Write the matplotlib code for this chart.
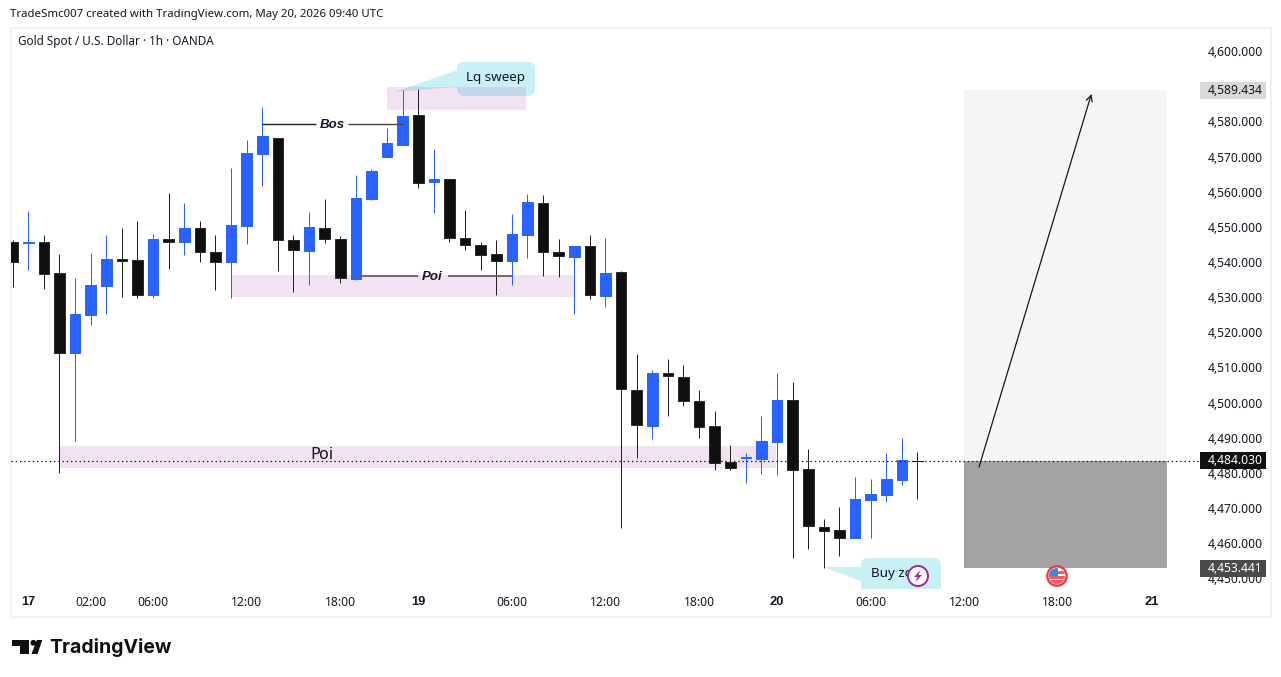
import matplotlib
matplotlib.use("Agg")
import matplotlib.pyplot as plt
from matplotlib.patches import Circle, FancyBboxPatch, Polygon, Rectangle
from matplotlib.transforms import ScaledTranslation

plt.rcParams["font.family"] = ["Noto Sans", "DejaVu Sans"]

# hourly candles, left to right
opens = [4546.2, 4546.0, 4546.2, 4537.4, 4514.8, 4525.5, 4533.8, 4541.4, 4541.1, 4531.2,
         4547.1, 4546.3, 4550.2, 4543.4, 4540.6, 4550.9, 4571.4, 4575.9, 4546.8, 4543.8,
         4550.2, 4547.1, 4535.8, 4558.6, 4570.6, 4574.0, 4582.4, 4563.4, 4564.3, 4547.4,
         4545.4, 4542.8, 4540.9, 4548.3, 4557.4, 4543.4, 4542.1, 4545.1, 4531.0, 4537.7,
         4504.1, 4493.9, 4508.9, 4507.9, 4500.9, 4493.8, 4483.6, 4484.9, 4484.5, 4489.4,
         4501.2, 4481.6, 4465.3, 4464.2, 4462.0, 4472.8, 4474.3, 4478.5, 4484.2]
highs = [4546.9, 4555.2, 4548.3, 4542.9, 4536.1, 4543.2, 4548.3, 4550.3, 4552.3, 4548.6,
         4560.3, 4557.4, 4552.3, 4548.3, 4567.4, 4575.4, 4584.8, 4575.9, 4548.3, 4554.9,
         4558.6, 4548.0, 4565.4, 4567.1, 4578.8, 4589.4, 4589.9, 4572.8, 4564.3, 4555.5,
         4546.3, 4546.9, 4554.3, 4560.0, 4559.7, 4547.2, 4545.2, 4548.3, 4547.5, 4538.1,
         4514.4, 4509.9, 4513.0, 4511.3, 4504.2, 4498.2, 4488.5, 4486.2, 4496.8, 4509.0,
         4506.5, 4487.4, 4467.4, 4470.8, 4479.4, 4478.8, 4486.2, 4490.5, 4486.5]
lows = [4533.6, 4538.4, 4532.8, 4480.6, 4489.7, 4522.7, 4525.8, 4530.7, 4530.4, 4530.4,
        4538.6, 4542.6, 4540.6, 4532.5, 4530.4, 4545.8, 4562.3, 4538.1, 4532.1, 4534.1,
        4546.1, 4534.7, 4535.5, 4558.3, 4570.3, 4574.0, 4561.7, 4554.6, 4546.3, 4544.1,
        4538.4, 4531.2, 4534.1, 4541.8, 4536.7, 4536.4, 4525.8, 4530.1, 4527.8, 4465.0,
        4484.8, 4490.2, 4496.8, 4499.6, 4490.5, 4481.4, 4481.4, 4477.7, 4480.2, 4480.0,
        4456.3, 4458.9, 4453.5, 4456.9, 4462.0, 4462.0, 4472.3, 4477.1, 4473.1]
closes = [4540.7, 4546.2, 4537.3, 4514.8, 4525.8, 4534.1, 4541.5, 4540.9, 4531.3, 4547.2,
          4546.4, 4550.3, 4543.3, 4540.7, 4551.2, 4571.7, 4576.3, 4546.7, 4543.9, 4550.6,
          4547.0, 4535.9, 4558.9, 4566.6, 4574.5, 4582.2, 4563.2, 4564.3, 4547.3, 4545.3,
          4542.7, 4541.0, 4548.6, 4557.7, 4543.3, 4542.2, 4545.2, 4531.1, 4537.5, 4504.3,
          4494.3, 4509.0, 4508.0, 4500.9, 4493.7, 4483.5, 4482.0, 4485.0, 4489.6, 4501.3,
          4481.5, 4465.5, 4464.1, 4462.1, 4473.1, 4474.5, 4478.8, 4484.2, 4484.03]

time_ticks = [1, 5, 9, 15, 21, 26, 32, 38, 44, 49, 55, 61, 67, 73]
time_labels = ["17", "02:00", "06:00", "12:00", "18:00", "19", "06:00", "12:00", "18:00",
               "20", "06:00", "12:00", "18:00", "21"]
price_ticks = [4600, 4580, 4570, 4560, 4550, 4540, 4530, 4520, 4510, 4500, 4490, 4480,
               4470, 4460, 4450]

last_price = 4484.030
target_price = 4589.434
stop_price = 4453.441

BLUE = "#2962ff"
BLACK = "#0f0f0f"
TEXT = "#131722"
PINK = (168 / 255, 68 / 255, 175 / 255, 0.15)
CALLOUT = "#c8f0f5"

W, H = 1281, 677
fig = plt.figure(figsize=(W / 100, H / 100), dpi=100, facecolor="white")


def pixel_axes(zorder):
    a = fig.add_axes([0, 0, 1, 1], zorder=zorder)
    a.set_xlim(0, W)
    a.set_ylim(H, 0)
    a.axis("off")
    return a


under = pixel_axes(0)
over = pixel_axes(2)

# pane runs from x=11 to x=1200, y=28 to y=589
ax = fig.add_axes([11 / W, 1 - 589 / H, 1189 / W, 561 / H], zorder=1)
ax.patch.set_alpha(0)
ax.set_xlim((11 - 12.7) / 15.6, (1200 - 12.7) / 15.6)
ax.set_ylim(4447.52, 4607.17)
for s in ax.spines.values():
    s.set_visible(False)

# pane frame and header
under.add_patch(Rectangle((10.5, 27.5), 1260.5, 589, fc="none", ec="#f0f3f5", lw=1.5))
under.text(10, 15, "TradeSmc007 created with TradingView.com, May 20, 2026 09:40 UTC",
           fontsize=8.22, color=TEXT, va="center")
under.text(18, 42, "Gold Spot / U.S. Dollar · 1h · OANDA", fontsize=8.43, color=TEXT, va="center")

# callouts sit behind the zones
under.add_patch(FancyBboxPatch((463, 68), 66, 22, boxstyle="round,pad=6,rounding_size=7",
                               fc=CALLOUT, ec="none"))
under.add_patch(Polygon([(395, 91.7), (458, 70), (458, 87)], fc=CALLOUT, ec="none"))
under.text(495.5, 78, "Lq sweep", fontsize=9.7, color=TEXT, ha="center", va="center")

buy_box = FancyBboxPatch((867, 564), 68, 40, boxstyle="round,pad=6,rounding_size=7",
                         fc=CALLOUT, ec="none")
under.add_patch(buy_box)
buy_box.set_clip_path(Rectangle((850, 550), 100, 39, transform=under.transData))
under.add_patch(Polygon([(823, 566.7), (862, 567), (862, 581.7)], fc=CALLOUT, ec="none"))
under.text(871, 574, "Buy zo", fontsize=9.7, color=TEXT, va="center")

# zones
ax.add_patch(Rectangle((3, 4482.0), 45.9, 6.2, fc=PINK, ec="none", zorder=1))
ax.add_patch(Rectangle((14, 4530.6), 22, 6.3, fc=PINK, ec="none", zorder=1))
ax.add_patch(Rectangle((24, 4583.7), 8.9, 6.8, fc=PINK, ec="none", zorder=1))
ax.text(19.8, 4485.9, "Poi", fontsize=11.5, color=TEXT, ha="center", va="center", zorder=4,
        family=["DejaVu Sans"])

# position tool
ax.add_patch(Rectangle((61, last_price), 13, target_price - last_price, fc="#f5f5f5", ec="none", zorder=1))
ax.add_patch(Rectangle((61, stop_price), 13, last_price - stop_price, fc="#a3a3a3", ec="none", zorder=1))

# candles
for i in range(len(opens)):
    up = closes[i] >= opens[i]
    if i == len(opens) - 1:
        # still forming, only a cross so far
        ax.plot([i, i], [lows[i], highs[i]], color="#222222", lw=0.72, zorder=3, solid_capstyle="butt")
        ax.plot([i - 0.35, i + 0.35], [closes[i], closes[i]], color="#222222", lw=0.72, zorder=3)
        continue
    ax.plot([i, i], [lows[i], highs[i]], color=BLUE if up else "#222222", lw=0.72, zorder=3,
            solid_capstyle="butt")
    bottom = min(opens[i], closes[i])
    height = abs(closes[i] - opens[i])
    ax.bar(i, height, bottom=bottom, width=0.68, color=BLUE if up else BLACK,
           edgecolor=BLUE if up else "#2a2a2a", lw=0.7, zorder=3)

# last price line
ax.axhline(last_price, color="#111111", lw=0.9, ls=(0, (1.1, 2.3)), zorder=3.5)

# drawn levels
ax.hlines(4579.8, 16, 19.44, color="#222222", lw=1, zorder=4)
ax.hlines(4579.8, 21.5, 25, color="#444444", lw=1, zorder=4)
ax.text(20.5, 4579.5, "Bos", fontsize=9.5, weight="bold", style="italic", color=TEXT,
        ha="center", va="center", zorder=4, family=["Liberation Sans"])
ax.hlines(4536.5, 22, 25.98, color="#6b5b6b", lw=1.3, zorder=4)
ax.hlines(4536.5, 27.9, 32, color="#6b5b6b", lw=1.3, zorder=4)
ax.text(26.9, 4536.2, "Poi", fontsize=9.5, weight="bold", style="italic", color=TEXT,
        ha="center", va="center", zorder=4, family=["Liberation Sans"])
ax.annotate("", xy=(69.15, 4588.4), xytext=(61.94, 4482.2), zorder=4,
            arrowprops=dict(arrowstyle="->", color=TEXT, lw=0.9, shrinkA=0, shrinkB=0,
                            mutation_scale=11))

# axes
ax.yaxis.tick_right()
ax.set_yticks(price_ticks)
ax.set_yticklabels([f"{p:,.3f}" for p in price_ticks], fontsize=8.7, color=TEXT)
ax.tick_params(axis="y", length=0, pad=5.8)
up_two = ScaledTranslation(0, 2 / 100, fig.dpi_scale_trans)
for lab in ax.get_yticklabels():
    lab.set_transform(lab.get_transform() + up_two)
ax.set_xticks(time_ticks)
ax.set_xticklabels(time_labels, fontsize=8.7, color=TEXT)
ax.tick_params(axis="x", length=0, pad=5.3)
for lab in ax.get_xticklabels():
    if ":" not in lab.get_text():
        lab.set_fontfamily(["Liberation Sans"])
        lab.set_fontweight("bold")
        lab.set_fontsize(9.3)

# price labels on the scale
x_edge = ax.get_xlim()[1]
for price, bg, fg in [(target_price, "#d9d9d9", TEXT), (last_price, BLACK, "white"),
                      (stop_price, "#4a4a4a", "white")]:
    ax.add_patch(Rectangle((x_edge, price - 2.4), 4.21, 4.8, fc=bg, ec="none", clip_on=False, zorder=6))
    ax.text(x_edge + 0.51, price, f"{price:,.3f}", fontsize=8.7, color=fg, va="center",
            clip_on=False, zorder=7)

# event and alert icons
flag = Circle((1057, 576), 9.7, fc="white", ec="#f23645", lw=1.7)
over.add_patch(flag)
inner = Circle((1057, 576), 8, transform=over.transData)
for r in [Rectangle((1048, 570.5), 18, 3, fc="#f05a64", ec="none"),
          Rectangle((1048, 576), 18, 2.5, fc="#f05a64", ec="none"),
          Rectangle((1048, 580), 18, 3.5, fc="#f05a64", ec="none"),
          Rectangle((1048, 567), 10, 9, fc="#2e8cee", ec="none")]:
    over.add_patch(r)
    r.set_clip_path(inner)

over.add_patch(Circle((918, 576), 10, fc="white", ec="#9c27b0", lw=1.4))
over.add_patch(Polygon([(920.5, 570), (914, 577), (917.5, 577), (915.5, 582), (922, 575),
                        (918.5, 575)], fc="#9c27b0", ec="none"))

# logo
over.add_patch(Polygon([(12.3, 640), (29, 640), (29, 654), (20, 654), (20, 645.5), (12.3, 645.5)],
                       fc=BLACK, ec="none"))
over.add_patch(Circle((33.3, 642.8), 2.9, fc=BLACK, ec="none"))
over.add_patch(Polygon([(36.8, 640), (42.3, 640), (37.5, 654), (31.5, 654)], fc=BLACK, ec="none"))
over.text(49, 647.5, "TradingView", fontsize=14, weight="bold", color=BLACK, va="center",
          family=["Inter", "DejaVu Sans"])

fig.savefig("out.png", dpi=100)
